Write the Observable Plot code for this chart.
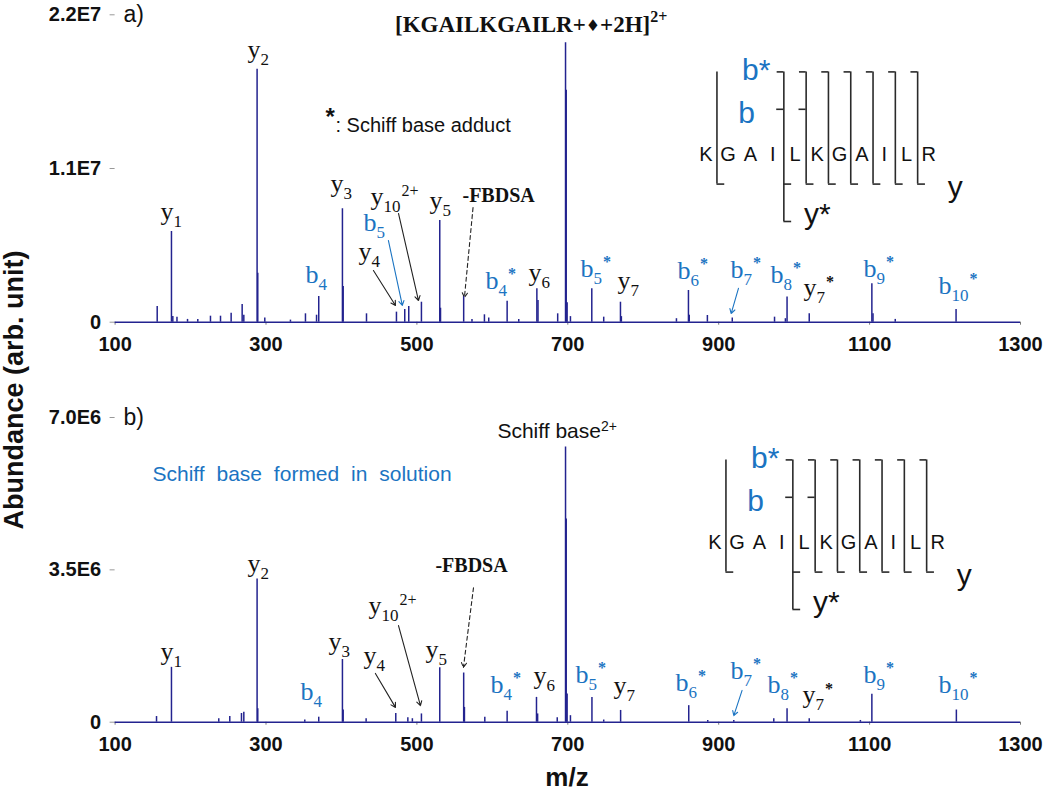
<!DOCTYPE html>
<html><head><meta charset="utf-8">
<script src="https://cdn.jsdelivr.net/npm/d3@7"></script>
<script src="https://cdn.jsdelivr.net/npm/@observablehq/plot@0.6"></script>
<style>
html,body{margin:0;padding:0;background:#fff;}
#root{position:relative;width:1050px;height:792px;overflow:hidden;font-family:"Liberation Sans",Arial,sans-serif;}
.abs{position:absolute;white-space:nowrap;}
</style></head><body><div id="root"></div>
<script>
// ---------- data ----------
const xTicks = [100, 300, 500, 700, 900, 1100, 1300];
const xTickLabels = ["100", "300", "500", "700", "900", "1100", "1300"];
const yTicksA = [0, 1.1e7, 2.2e7];
const yTickLabelsA = ["0", "1.1E7", "2.2E7"];
const yTicksB = [0, 3.5e6, 7.0e6];
const yTickLabelsB = ["0", "3.5E6", "7.0E6"];

// panel a spectrum (m/z, abundance)
const mzA = [155.8,174.7,176.5,182,196,209.6,226.4,239.7,253.8,268.4,270.6,288.2,289.1,298.4,332.4,352.3,367.0,369.9,401.3,402.3,433.2,472.9,483.9,489.2,506.0,530.3,531.3,562.0,573.0,589.5,595.2,619.6,635.0,659.0,660.5,686.6,697.0,697.9,699.1,703.5,731.8,747.6,769.8,771.0,844.0,859.9,861.0,885.0,918.0,974.0,988.4,990.6,1020.0,1103.0,1104.5,1134.0,1214.6];
const abA = [1.12e6,6.49e6,0.4e6,0.36e6,0.2e6,0.2e6,0.43e6,0.43e6,0.64e6,1.27e6,0.5e6,1.81e7,3.5e6,0.3e6,0.15e6,0.6e6,0.5e6,1.84e6,8.12e6,2.55e6,0.6e6,0.72e6,0.9e6,1.12e6,1.43e6,7.28e6,1.0e6,1.85e6,0.2e6,0.53e6,0.3e6,1.5e6,0.2e6,2.4e6,1.55e6,0.6e6,2.0e7,1.66e7,1.4e6,0.4e6,2.4e6,0.36e6,1.43e6,0.4e6,0.25e6,2.27e6,0.5e6,0.48e6,0.3e6,0.36e6,0.25e6,1.8e6,0.6e6,2.75e6,0.6e6,0.2e6,0.9e6];

// panel b spectrum
const mzB = [154.9,174.7,237.4,252.0,267.5,270.6,288.2,289.1,351.4,369.9,401.3,402.3,432.7,472.0,488.0,494.0,506.0,530.3,562.0,563.0,590.0,619.6,658.5,660.0,686.0,697.0,697.9,699.1,703.5,732.0,747.6,770.0,860.3,885.5,920.0,973.0,990.6,1020.0,1087.8,1103.0,1215.0];
const abB = [0.13e6,1.26e6,0.08e6,0.13e6,0.2e6,0.23e6,3.29e6,0.31e6,0.05e6,0.115e6,1.44e6,0.28e6,0.08e6,0.2e6,0.1e6,0.08e6,0.19e6,1.25e6,1.13e6,0.34e6,0.115e6,0.25e6,0.57e6,0.19e6,0.1e6,6.32e6,4.67e6,0.65e6,0.15e6,0.57e6,0.05e6,0.27e6,0.38e6,0.04e6,0.04e6,0.08e6,0.31e6,0.08e6,0.04e6,0.64e6,0.28e6];

// ion labels: [label ("_" subscript, "^" superscript), m/z at left edge, abundance at baseline]
const ionsA = [
  ["y_1",160.2,7.28e6],["y_2",275.5,1.89e7],["y_3",385.4,9.35e6],["y_10^2+",438.4,8.42e6],
  ["b_5",429.2,6.56e6],["y_4",422.6,4.42e6],["b_4",352.2,2.77e6],["y_5",516.7,8.07e6],
  ["y_6",647.8,2.98e6],["b_4^*",590.8,2.41e6],["b_5^*",716.8,3.27e6],["y_7",765.9,2.38e6],
  ["b_6^*",845.3,3.06e6],["b_7^*",915.6,3.13e6],["b_8^*",968.6,2.77e6],["y_7^*",1012.4,1.84e6],
  ["b_9^*",1091.9,3.2e6],["b_10^*",1191.3,2.05e6]
];
const ionsB = [
  ["y_1",160.2,1.43e6],["y_2",275.5,3.45e6],["y_3",382.8,1.65e6],["b_4",345.7,0.5e6],
  ["y_4",429.2,1.34e6],["y_10^2+",435.8,2.49e6],["y_5",511.3,1.47e6],["b_4^*",597.5,0.66e6],
  ["y_6",654.5,0.87e6],["b_5^*",710.2,0.89e6],["y_7",760.5,0.65e6],["b_6^*",842.6,0.71e6],
  ["b_7^*",915.5,1.0e6],["b_8^*",964.6,0.68e6],["y_7^*",1011.0,0.45e6],["b_9^*",1091.8,0.91e6],
  ["b_10^*",1191.2,0.66e6]
];

// arrows: [m/z from, abundance from, m/z to, abundance to, kind]
const arrowsA = [[475.6,7.78e6,502.1,1.55e6,"y"],[462.2,5.85e6,480.7,1.2e6,"b"],[442.4,3.7e6,471.6,1.2e6,"y"],[574.4,8.2e6,563.0,1.77e6,"dash"],[926.2,2.42e6,916.5,0.62e6,"b"]];
const arrowsB = [[445.0,1.12e6,471.6,0.34e6,"y"],[475.6,2.22e6,504.7,0.38e6,"y"],[575.0,3.09e6,561.7,1.26e6,"dash"],[931.0,0.73e6,920.0,0.15e6,"b"]];

// notes: [text, m/z left, abundance baseline]
const fbdsaA = [["-FBDSA",560.4,8.57e6]];
const fbdsaB = [["-FBDSA",524.6,3.46e6]];
const starNoteA = [["*",379.0,1.408e7]];
const adductNoteA = [[": Schiff base adduct",392.1,1.358e7]];
const schiffNoteB = [["Schiff base^2+",606.7,6.53e6]];
const solutionNoteB = [["Schiff base formed in solution",149.6,5.54e6]];
const panelTagA = [["a)",111.1,2.2e7]];
const panelTagB = [["b)",111.1,7.0e6]];

// inset: fragmentation map
const residues = ["K","G","A","I","L","K","G","A","I","L","R"];
const cleavageSites = [1,4,5,6,7,8,9,10];
const bStarSites = [4,5,6,7,8,9,10];
const bSites = [4,5];
const ySites = [1,4,5,6,7,8,9,10];
const yStarSites = [4];
const insetLabelsEnd = [["b*",3.9,0.22],["b",3.2,1.36]];
const insetLabelsStart = [["y",11.85,3.34],["y*",5.4,4.07]];

const titleMain = "[KGAILKGAILR+";
const titleTail = "+2H]";
const titleCharge = "2+";
const xLabel = "m/z";
const yLabel = "Abundance (arb. unit)";

// ---------- styles ----------
const SANS = "Liberation Sans, Arial, Helvetica, sans-serif";
const SERIF = "Liberation Serif, Times New Roman, Times, serif";
const BLUE = "#1b74c2";
const NAVY = "#23238f";
const INK = "#111";

function richify(svg, tag, o) {
  d3.select(svg).selectAll(`g[aria-description="${tag}"] text`).each(function () {
    const s = this.textContent;
    const [head, sup] = s.split("^");
    const [main, sub] = head.split("_");
    const t = d3.select(this);
    t.text(null);
    t.append("tspan").text(main);
    let cur = 0;
    if (sub) { t.append("tspan").attr("font-size", o.subSize).attr("dy", o.subDy).text(sub); cur = o.subDy; }
    if (sup) {
      const ts = t.append("tspan").attr("font-size", o.supSize).attr("dy", o.supDy - cur).attr("dx", o.supDx || 0).text(sup);
      if (sup === "*") ts.attr("font-weight", "bold");
    }
  });
}

function panel(cfg) {
  const peaks = cfg.mz.map((m, i) => ({mz: m, ab: cfg.ab[i]}));
  const txt = (data, opts) => Plot.text(data, {x: d => d[1], y: d => d[2], text: d => d[0], textAnchor: "start", lineAnchor: "bottom", ...opts});
  const arr = (data, kind, stroke, extra = {}) => Plot.arrow(data.filter(d => d[4] === kind), {x1: d => d[0], y1: d => d[1], x2: d => d[2], y2: d => d[3], stroke, strokeWidth: 1.1, headLength: 7, ...extra});
  const svg = Plot.plot({
    width: 1050, height: cfg.height,
    marginTop: cfg.marginTop, marginBottom: cfg.marginBottom, marginLeft: 114.6, marginRight: 30,
    x: {domain: [100, 1300]},
    y: {domain: [0, cfg.yTicks[cfg.yTicks.length - 1]]},
    style: {background: "transparent", overflow: "visible"},
    marks: [
      Plot.axisX(xTicks, {tickSize: 3, tickPadding: 12, fontSize: 20, fontWeight: "bold", fontFamily: SANS, stroke: "#777", fill: "#111", label: null,
        tickFormat: d => xTickLabels[xTicks.indexOf(d)]}),
      Plot.axisY(cfg.yTicks, {tickSize: 5, tickPadding: 9, fontSize: 20, fontWeight: "bold", fontFamily: SANS, stroke: "#999", fill: "#111", label: null,
        tickFormat: d => cfg.yTickLabels[cfg.yTicks.indexOf(d)]}),
      Plot.ruleY([0], {stroke: NAVY, strokeWidth: 1.5}),
      Plot.ruleX(peaks, {x: "mz", y1: 0, y2: "ab", stroke: NAVY, strokeWidth: 1.5}),
      arr(cfg.arrows, "y", "#222"),
      arr(cfg.arrows, "b", BLUE),
      arr(cfg.arrows, "dash", "#222", {strokeDasharray: "4,3"}),
      txt(cfg.ions.filter(d => d[0][0] === "y"), {fontFamily: SERIF, fontSize: 26, fill: INK, ariaDescription: "ion-y"}),
      txt(cfg.ions.filter(d => d[0][0] === "b"), {fontFamily: SERIF, fontSize: 26, fill: BLUE, ariaDescription: "ion-b"}),
      txt(cfg.fbdsa, {fontFamily: SERIF, fontSize: 20, fontWeight: "bold", fill: INK}),
      txt(cfg.tag, {fontFamily: SANS, fontSize: 23, fill: INK, lineAnchor: "middle"}),
      ...cfg.extra.map(([data, opts]) => txt(data, opts))
    ]
  });
  richify(svg, "ion-y", {subSize: 17, subDy: 7, supSize: 16, supDy: -9, supDx: 1});
  richify(svg, "ion-b", {subSize: 17, subDy: 7, supSize: 16, supDy: -10, supDx: 1});
  richify(svg, "note-sup", {subSize: 14, subDy: 0, supSize: 14, supDy: -7});
  d3.select(svg).selectAll('g[aria-description="note-blue"] text').style("word-spacing", "6px");
  return svg;
}

function inset() {
  const ux = 22.3, uy = 37.4;
  const line = "#2a2a2a";
  const lab = (data, anchor) => Plot.text(data, {x: d => d[1], y: d => d[2], text: d => d[0], textAnchor: anchor, fontFamily: SANS, fontSize: 30,
    fill: d => d[0][0] === "b" ? BLUE : "#111", lineAnchor: "bottom"});
  return Plot.plot({
    width: 14 * ux, height: 6 * uy, margin: 0,
    x: {domain: [0, 14], axis: null},
    y: {domain: [5, -1], axis: null},
    style: {background: "transparent", overflow: "visible"},
    marks: [
      Plot.ruleX(cleavageSites, {x: d => d + 0.5, y1: 0, y2: d => yStarSites.includes(d) ? 4 : 3, stroke: line, strokeWidth: 1.6}),
      Plot.ruleY(bStarSites, {y: 0, x1: d => d + 0.2, x2: d => d + 0.5, stroke: line, strokeWidth: 1.6}),
      Plot.ruleY(bSites, {y: 1, x1: d => d + 0.18, x2: d => d + 0.5, stroke: line, strokeWidth: 1.6}),
      Plot.ruleY(ySites, {y: 3, x1: d => d + 0.5, x2: d => d + 0.85, stroke: line, strokeWidth: 1.6}),
      Plot.ruleY(yStarSites, {y: 4, x1: d => d + 0.5, x2: d => d + 0.85, stroke: line, strokeWidth: 1.6}),
      Plot.text(residues, {x: (d, i) => i + 1, y: 2, text: d => d, fontFamily: SANS, fontSize: 20, fill: "#111", lineAnchor: "bottom", dy: 14}),
      lab(insetLabelsEnd, "end"),
      lab(insetLabelsStart, "start")
    ]
  });
}

const root = document.getElementById("root");
function place(el, left, top) { el.style.position = "absolute"; el.style.left = left + "px"; el.style.top = top + "px"; root.appendChild(el); return el; }

const svgA = panel({
  mz: mzA, ab: abA, yTicks: yTicksA, yTickLabels: yTickLabelsA, height: 360, marginTop: 14.3, marginBottom: 38.3,
  ions: ionsA, arrows: arrowsA, fbdsa: fbdsaA, tag: panelTagA,
  extra: [
    [starNoteA, {fontFamily: SANS, fontSize: 24, fontWeight: "bold", fill: INK}],
    [adductNoteA, {fontFamily: SANS, fontSize: 20, fill: INK}]
  ]
});
place(svgA, 0, 0);

const svgB = panel({
  mz: mzB, ab: abB, yTicks: yTicksB, yTickLabels: yTickLabelsB, height: 380, marginTop: 37, marginBottom: 38.3,
  ions: ionsB, arrows: arrowsB, fbdsa: fbdsaB, tag: panelTagB,
  extra: [
    [schiffNoteB, {fontFamily: SANS, fontSize: 21, fill: INK, ariaDescription: "note-sup"}],
    [solutionNoteB, {fontFamily: SANS, fontSize: 21, fill: BLUE, ariaDescription: "note-blue"}]
  ]
});
place(svgB, 0, 380);

place(inset(), 683.25, 34.3);
place(inset(), 691.55, 421.9);

// title
const title = document.createElement("div");
title.className = "abs";
title.style.cssText += `left:395px;top:13px;font:bold 23px ${SERIF};line-height:23px;color:#111;`;
title.innerHTML = `${titleMain}<span style="font:16px 'DejaVu Sans';position:relative;top:-1px;">&#9830;</span>${titleTail}<span style="font-size:16px;position:relative;top:-10px;">${titleCharge}</span>`;
root.appendChild(title);

// x label
const xl = document.createElement("div");
xl.className = "abs";
xl.style.cssText += `left:467px;width:200px;top:764px;text-align:center;font:bold 26px ${SANS};line-height:26px;color:#111;`;
xl.textContent = xLabel;
root.appendChild(xl);

// y label
const yl = document.createElement("div");
yl.className = "abs";
yl.style.cssText += `left:-186px;top:375px;width:400px;height:30px;line-height:30px;text-align:center;font:bold 27px ${SANS};color:#111;transform:rotate(-90deg);`;
yl.textContent = yLabel;
root.appendChild(yl);
</script></body></html>
